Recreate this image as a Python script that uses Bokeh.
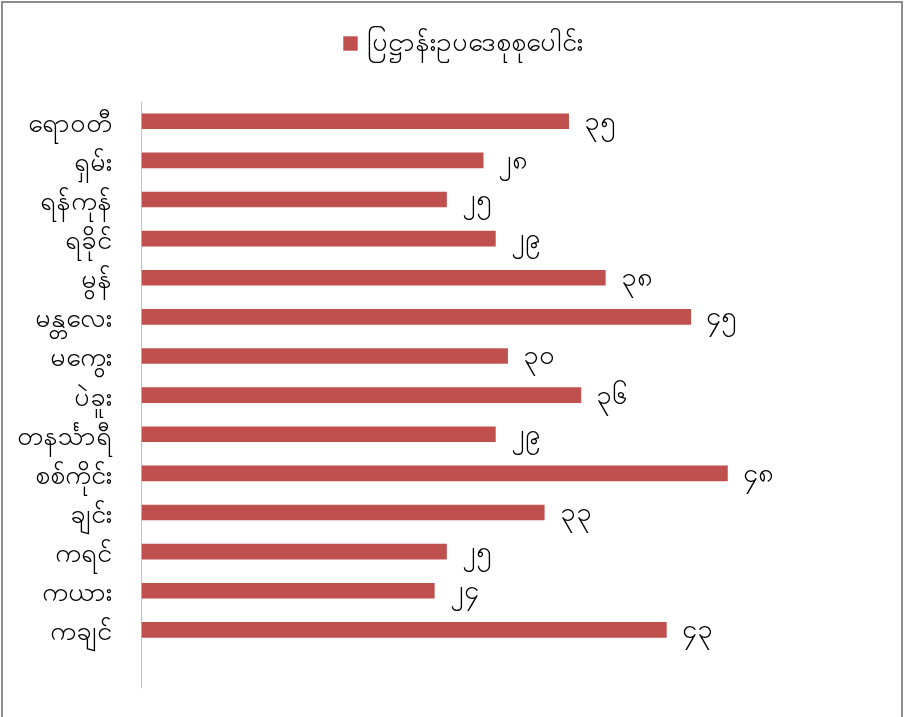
from bokeh.plotting import figure
from bokeh.models import Range1d, FixedTicker, Legend, LegendItem, ColumnDataSource
from bokeh.core.properties import value
from bokeh.embed import file_html
from bokeh.resources import INLINE

categories = ["ရောဝတီ", "ရှမ်း", "ရန်ကုန်", "ရခိုင်", "မွန်", "မန္တလေး", "မကွေး",
              "ပဲခူး", "တနင်္သာရီ", "စစ်ကိုင်း", "ချင်း", "ကရင်", "ကယား", "ကချင်"]
values = [35, 28, 25, 29, 38, 45, 30, 36, 29, 48, 33, 25, 24, 43]
series_name = "ပြဋ္ဌာန်းဥပဒေစုစုပေါင်း"

MM_DIGITS = "၀၁၂၃၄၅၆၇၈၉"
def mm(n):
    return "".join(MM_DIGITS[int(c)] for c in str(n))

n = len(categories)
pos = list(range(n))
src = ColumnDataSource(dict(y=pos, v=values, lab=[mm(v) for v in values], cat=categories))

FONT = "Noto Sans"
W, H = 902, 722
FL, FT, FW, FH = 138, 0, 662, 685
SLOT = 39.12  # px per category slot

p = figure(width=W, height=H, output_backend="svg", toolbar_location=None,
           x_range=Range1d(0, 54.2), y_range=Range1d(n + 0.5, n + 0.5 - FH / SLOT),
           min_border_left=FL, min_border_top=FT,
           min_border_right=W - FL - FW, min_border_bottom=H - FT - FH,
           background_fill_color="white", border_fill_color="white")
p.styles = {"position": "fixed", "left": "1px", "top": "1px",
            "border": "2px solid #8c8c8c"}
p.outline_line_color = None
p.grid.visible = False
p.xaxis.visible = False

bars = p.hbar(y="y", right="v", left=0, height=0.4, source=src,
              fill_color="#c0504d", line_color=None)

# vertical category axis line (spans the category band plus one empty slot)
p.segment(x0=[0], y0=[-0.5], x1=[0], y1=[n + 0.5], line_color="#868686", line_width=1)

p.text(x="v", y="y", text="lab", source=src, x_offset=15, y_offset=-2,
       text_baseline="middle", text_align="left", text_font=value(FONT),
       text_font_size="27px", text_color="black")

ax = p.yaxis[0]
ax.ticker = FixedTicker(ticks=pos)
ax.major_label_overrides = {i: c for i, c in zip(pos, categories)}
ax.axis_line_color = None
ax.major_tick_line_color = None
ax.minor_tick_line_color = None
ax.major_label_standoff = 24
ax.major_label_text_font = FONT
ax.major_label_text_font_size = "27px"
ax.major_label_text_color = "black"

legend = Legend(items=[LegendItem(label=series_name, renderers=[bars])],
                location=(200, 624), orientation="horizontal",
                glyph_width=18, glyph_height=18, label_standoff=8,
                label_text_font=FONT, label_text_font_size="27px",
                label_text_color="black",
                padding=0, margin=0, border_line_color=None,
                background_fill_alpha=0)
p.add_layout(legend, "center")

open("out.html", "w").write(file_html(p, INLINE))
